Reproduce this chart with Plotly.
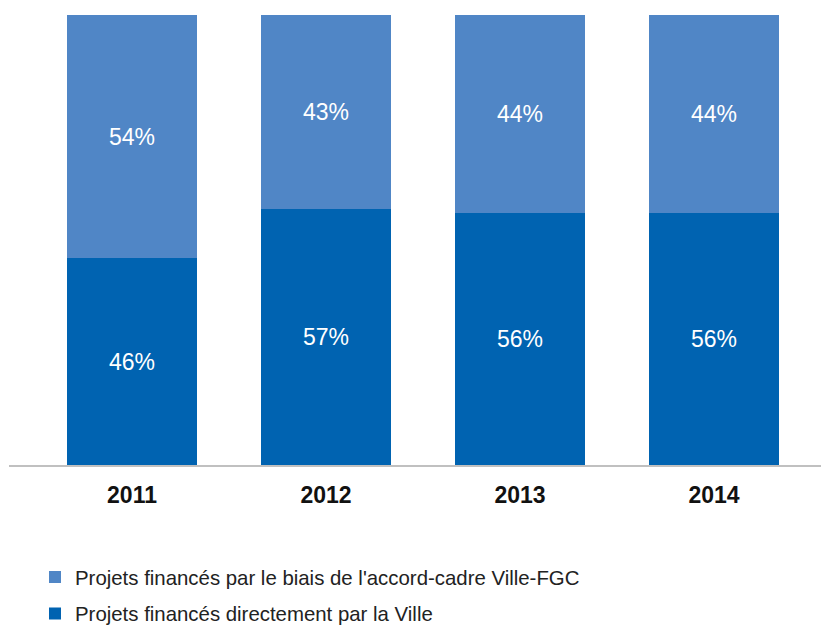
import plotly.graph_objects as go

years = ["2011", "2012", "2013", "2014"]
ville = [46, 57, 56, 56]
accord = [54, 43, 44, 44]
name_ville = "Projets financés directement par la Ville"
name_accord = "Projets financés par le biais de l'accord-cadre Ville-FGC"

dark = "#0063B1"
light = "#5086C6"

fig = go.Figure()
fig.add_trace(go.Bar(
    x=years, y=ville, name=name_ville, marker_color=dark,
    text=[f"{v}%" for v in ville], textposition="inside", insidetextanchor="middle",
    textfont=dict(color="white", size=23, family="Liberation Sans"),
    width=0.67, legendgroup="b", legendrank=2, hoverinfo="skip", marker_line_width=0,
))
fig.add_trace(go.Bar(
    x=years, y=accord, name=name_accord, marker_color=light,
    text=[f"{v}%" for v in accord], textposition="inside", insidetextanchor="middle",
    textfont=dict(color="white", size=23, family="Liberation Sans"),
    width=0.67, legendgroup="a", legendrank=1, hoverinfo="skip", marker_line_width=0,
))

fig.update_layout(
    barmode="stack",
    width=829, height=628,
    margin=dict(l=1, r=0, t=7, b=171, autoexpand=False),
    paper_bgcolor="white", plot_bgcolor="white",
    font=dict(family="Liberation Sans", color="#222222"),
    xaxis=dict(
        type="category", range=[-0.634, 3.634],
        showline=True, linecolor="#c0c0c0", linewidth=2,
        ticks="outside", ticklen=8, tickcolor="rgba(0,0,0,0)", showgrid=False,
        tickfont=dict(size=23, color="#111111", family="Liberation Sans", weight="bold"),
    ),
    yaxis=dict(range=[0, 100], visible=False, showgrid=False),
    showlegend=True,
    legend=dict(
        orientation="v", x=0.0314, xanchor="left", y=-0.205, yanchor="top",
        traceorder="grouped", tracegroupgap=7,
        font=dict(size=20.4, color="#222222", family="Liberation Sans"),
        bgcolor="rgba(0,0,0,0)",
    ),
    uniformtext=dict(minsize=23, mode="show"),
)

fig.write_html("out.html")
